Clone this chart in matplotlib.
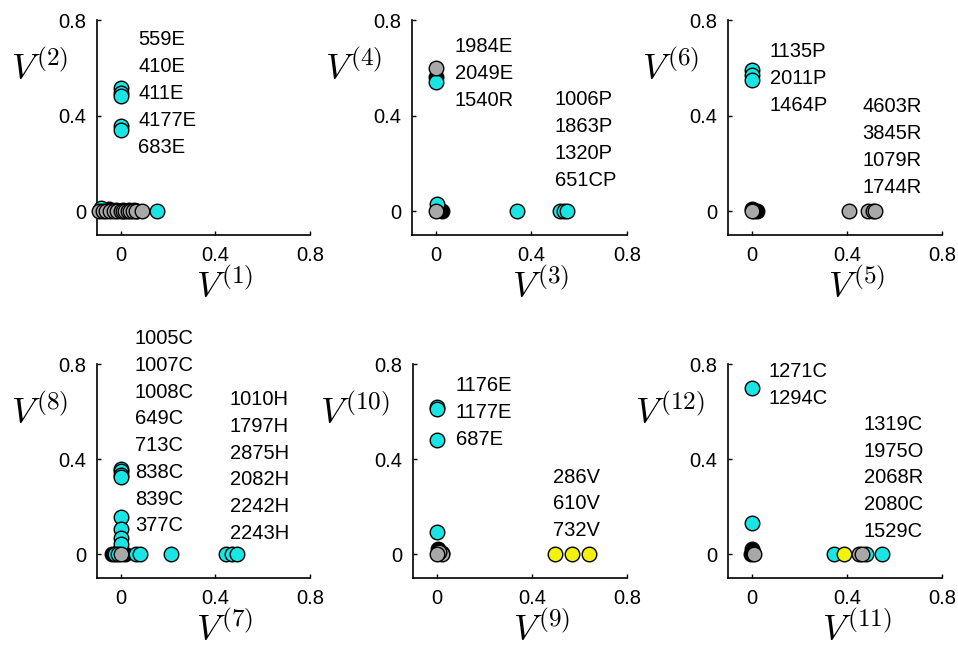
import matplotlib
matplotlib.use('Agg')
import matplotlib.pyplot as plt

plt.rcParams['font.family'] = ['Liberation Sans', 'DejaVu Sans']
plt.rcParams['mathtext.fontset'] = 'cm'

CYAN = '#19e5e5'
GRAY = '#a8a8a8'
YELLOW = '#f2f20a'

# panel 1: V(1) vs V(2)
p1_cyan_x = [0, 0, 0, 0, 0, 0.155, -0.085]
p1_cyan_y = [0.515, 0.495, 0.48, 0.355, 0.34, 0, 0.012]
p1_gray_x = [-0.09, -0.075, -0.06, -0.045, -0.03, -0.015, 0, 0.01, 0.02, 0.03, 0.04, 0.05, 0.065, 0.09]
p1_gray_y = [0] * len(p1_gray_x)
p1_black_x = [-0.05, -0.02, 0.01, 0.035, 0.055, 0.07]
p1_black_y = [0.008, 0.005, 0.006, 0.004, 0.003, 0.002]
p1_left = ['559E', '410E', '411E', '4177E', '683E']
p1_right = []

# panel 2: V(3) vs V(4)
p2_cyan_x = [0, 0.005, 0.34, 0.52, 0.535, 0.55]
p2_cyan_y = [0.54, 0.03, 0, 0, 0, 0]
p2_gray_x = [0, 0]
p2_gray_y = [0.6, 0]
p2_black_x = [0, 0.015, 0.025, 0.01]
p2_black_y = [0.56, 0.005, 0, 0.01]
p2_left = ['1984E', '2049E', '1540R']
p2_right = ['1006P', '1863P', '1320P', '651CP']

# panel 3: V(5) vs V(6)
p3_cyan_x = [0, 0, 0]
p3_cyan_y = [0.59, 0.57, 0.55]
p3_gray_x = [0, 0.41, 0.49, 0.51, 0.52]
p3_gray_y = [0, 0, 0, 0, 0]
p3_black_x = [0, 0.005, 0.01, 0.02]
p3_black_y = [0.01, 0.005, 0, 0]
p3_left = ['1135P', '2011P', '1464P']
p3_right = ['4603R', '3845R', '1079R', '1744R']

# panel 4: V(7) vs V(8)
p4_cyan_x = [0, 0, 0, 0, 0, 0, 0, 0, -0.025, -0.01, 0.065, 0.08, 0.213, 0.445, 0.47, 0.49]
p4_cyan_y = [0.36, 0.35, 0.335, 0.325, 0.155, 0.105, 0.07, 0.045, 0, 0, 0, 0, 0, 0, 0, 0]
p4_gray_x = [0]
p4_gray_y = [0]
p4_black_x = [-0.035, -0.015, 0.005, 0.02]
p4_black_y = [0, 0.005, 0.01, 0]
p4_left = ['1005C', '1007C', '1008C', '649C', '713C', '838C', '839C', '377C']
p4_right = ['1010H', '1797H', '2875H', '2082H', '2242H', '2243H']

# panel 5: V(9) vs V(10)
p5_cyan_x = [0, 0, 0, 0]
p5_cyan_y = [0.62, 0.61, 0.48, 0.092]
p5_gray_x = [0.02, 0.01, 0]
p5_gray_y = [0, 0.01, 0]
p5_black_x = [0.005, 0.02]
p5_black_y = [0.02, 0.005]
p5_yellow_x = [0.497, 0.57, 0.641]
p5_yellow_y = [0, 0, 0]
p5_left = ['1176E', '1177E', '687E']
p5_right = ['286V', '610V', '732V']

# panel 6: V(11) vs V(12)
p6_cyan_x = [0, 0, 0.344, 0.48, 0.549]
p6_cyan_y = [0.7, 0.132, 0, 0, 0]
p6_gray_x = [0.01, 0.452, 0.465]
p6_gray_y = [0, 0, 0]
p6_black_x = [0, -0.005, 0.005]
p6_black_y = [0.02, 0, 0.01]
p6_yellow_x = [0.388]
p6_yellow_y = [0]
p6_left = ['1271C', '1294C']
p6_right = ['1319C', '1975O', '2068R', '2080C', '1529C']

panels = [
    (p1_cyan_x, p1_cyan_y, p1_gray_x, p1_gray_y, p1_black_x, p1_black_y, [], [], p1_left, p1_right, 1),
    (p2_cyan_x, p2_cyan_y, p2_gray_x, p2_gray_y, p2_black_x, p2_black_y, [], [], p2_left, p2_right, 3),
    (p3_cyan_x, p3_cyan_y, p3_gray_x, p3_gray_y, p3_black_x, p3_black_y, [], [], p3_left, p3_right, 5),
    (p4_cyan_x, p4_cyan_y, p4_gray_x, p4_gray_y, p4_black_x, p4_black_y, [], [], p4_left, p4_right, 7),
    (p5_cyan_x, p5_cyan_y, p5_gray_x, p5_gray_y, p5_black_x, p5_black_y, p5_yellow_x, p5_yellow_y, p5_left, p5_right, 9),
    (p6_cyan_x, p6_cyan_y, p6_gray_x, p6_gray_y, p6_black_x, p6_black_y, p6_yellow_x, p6_yellow_y, p6_left, p6_right, 11),
]

# label anchor positions (data coords): left block, right block
left_pos = [(0.075, 0.717), (0.08, 0.69), (0.075, 0.667), (0.06, 0.907), (0.08, 0.708), (0.072, 0.768)]
right_pos = [None, (0.497, 0.467), (0.466, 0.4375), (0.46, 0.65), (0.488, 0.324), (0.47, 0.546)]
line_step = 0.1125

W, H = 958, 650
boxes = [(97, 20, 213, 215), (412, 20, 215, 215), (728, 20, 214, 215),
         (97, 364, 213, 214), (413, 364, 214, 214), (728, 364, 214, 214)]

fig = plt.figure(figsize=(W / 100, H / 100), dpi=100)

for i, (cx, cy, gx, gy, bx, by, yx, yy, lt, rt, n) in enumerate(panels):
    l, t, w, h = boxes[i]
    ax = fig.add_axes([l / W, (H - t - h) / H, w / W, h / H])
    kw = dict(s=110, edgecolors='black', linewidths=1.0, clip_on=False)
    ax.scatter(bx, by, c='black', zorder=2, **kw)
    ax.scatter(cx, cy, c=CYAN, zorder=3, **kw)
    if yx:
        ax.scatter(yx, yy, c=YELLOW, zorder=4, **kw)
    ax.scatter(gx, gy, c=GRAY, zorder=5, **kw)

    ax.set_xlim(-0.1, 0.8)
    ax.set_ylim(-0.1, 0.8)
    ax.set_xticks([0, 0.4, 0.8])
    ax.set_yticks([0, 0.4, 0.8])
    ax.set_xticklabels(['0', '0.4', '0.8'])
    ax.set_yticklabels(['0', '0.4', '0.8'])
    ax.tick_params(direction='in', length=3, width=1, labelsize=14.5, pad=8)
    for s in ['top', 'right']:
        ax.spines[s].set_visible(False)
    for s in ['left', 'bottom']:
        ax.spines[s].set_linewidth(1.2)

    ax.text(0.6, -0.245, r'$V^{(%d)}$' % n, transform=ax.transAxes,
            fontsize=26, ha='center', va='center')
    ax.text(-0.27, 0.77, r'$V^{(%d)}$' % (n + 1), transform=ax.transAxes,
            fontsize=26, ha='center', va='center')

    x0, y0 = left_pos[i]
    for k, lab in enumerate(lt):
        ax.text(x0, y0 - k * line_step, lab, fontsize=14.5, ha='left', va='center',
                clip_on=False)
    if rt:
        x0, y0 = right_pos[i]
        for k, lab in enumerate(rt):
            ax.text(x0, y0 - k * line_step, lab, fontsize=14.5, ha='left', va='center',
                    clip_on=False)

fig.savefig('out.png', dpi=100)
